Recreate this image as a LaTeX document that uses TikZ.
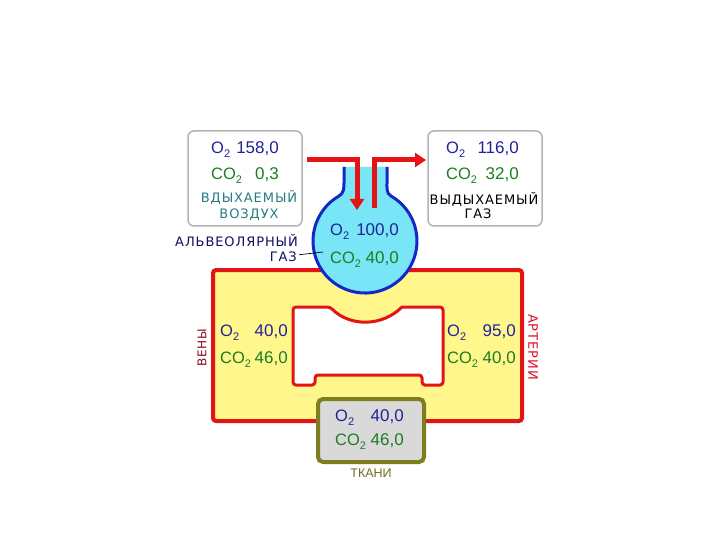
\documentclass[tikz,border=0pt]{standalone}
\usepackage{fontspec}
\setmainfont{Liberation Sans}
\newfontfamily\labfont[LetterSpace=7]{DejaVu Sans}
\usetikzlibrary{arrows.meta}
\definecolor{oxblue}{HTML}{22229A}
\definecolor{cgreen}{HTML}{1E7E1E}
\definecolor{tealtxt}{HTML}{2A7A80}
\definecolor{navytxt}{HTML}{101060}
\definecolor{flaskfill}{HTML}{78E6F6}
\definecolor{flaskline}{HTML}{1428C8}
\definecolor{redline}{HTML}{E41414}
\definecolor{yellowfill}{HTML}{FFF68C}
\definecolor{tissuefill}{HTML}{D9D9D9}
\definecolor{olive}{HTML}{7E7E1E}
\definecolor{olivetxt}{HTML}{6E6E22}
\definecolor{venred}{HTML}{8A0C1E}
\definecolor{artred}{HTML}{E0102A}
\definecolor{boxgray}{HTML}{B4B4B4}
\newcommand\subtwo{\raisebox{-0.45ex}{\fontsize{11}{11}\selectfont 2}}
\newcommand\chemO{{\fontsize{16.5}{16.5}\selectfont O}\subtwo}
\newcommand\chemCO{{\fontsize{16.5}{16.5}\selectfont CO}\subtwo}
\begin{document}
\begin{tikzpicture}[x=1pt,y=1pt,
  num/.style={font=\fontsize{17}{17}\selectfont, inner sep=0pt},
  oxy/.style={num, text=oxblue},
  cdx/.style={num, text=cgreen},
  lab/.style={font=\labfont\fontsize{13}{13}\selectfont, inner sep=0pt},
  gasbox/.style={draw=boxgray, line width=1.5pt, fill=white, rounded corners=6pt},
  redarrow/.style={draw=redline, line width=5pt, -{Triangle[length=11pt,width=14pt]}},
]
\useasboundingbox (0,0) rectangle (720,-540);
\fill[white] (0,0) rectangle (720,-540);

% top boxes
\draw[gasbox] (188,-131) rectangle (302,-226);
\draw[gasbox] (428,-131) rectangle (542,-226);

% yellow blood loop
\draw[draw=redline, line width=4pt, fill=yellowfill, rounded corners=3pt] (213,-270) rectangle (522,-421);
% inner white shape
\draw[draw=redline, line width=3pt, fill=white, rounded corners=3pt]
  (293,-307) -- (330,-307) [sharp corners] arc[start angle=225, end angle=315, radius=50.9]
  [rounded corners=3pt] -- (443,-307) -- (443,-385) -- (422,-385) -- (422,-375)
  -- (315,-375) -- (315,-385) -- (293,-385) -- cycle;

% flask
\fill[flaskfill] (344,-167) -- (344,-183) to[out=-90,in=30] (339,-196)
  arc[start angle=120, end angle=420, radius=52]
  to[out=150,in=-90] (387,-183) -- (387,-167) -- cycle;
\draw[flaskline, line width=3pt] (344,-167) -- (344,-183) to[out=-90,in=30] (339,-196)
  arc[start angle=120, end angle=420, radius=52]
  to[out=150,in=-90] (387,-183) -- (387,-167);

% red arrows
\coordinate (inA) at (307,-160);
\coordinate (inB) at (357,-160);
\coordinate (inC) at (357,-210);
\coordinate (outA) at (374,-208);
\coordinate (outB) at (374,-160);
\coordinate (outC) at (426,-160);
\draw[redarrow] (inA) -- (inB) -- (inC);
\draw[redarrow] (outA) -- (outB) -- (outC);

% tissue box
\draw[draw=olive, line width=4pt, fill=tissuefill, rounded corners=5pt] (318,-399) rectangle (424,-462);

% left box texts
\node[oxy, anchor=base west] (lo) at (211,-153.5) {\chemO};
\node[oxy, anchor=base east] (lov) at (279,-153.5) {158,0};
\node[cdx, anchor=base west] (lc) at (211,-179.5) {\chemCO};
\node[cdx, anchor=base east] (lcv) at (279,-179.5) {0,3};
\node[lab, text=tealtxt, anchor=base] (inl1) at (249,-202.5) {ВДЫХАЕМЫЙ};
\node[lab, text=tealtxt, anchor=base] (inl2) at (249,-218.5) {ВОЗДУХ};

% right box texts
\node[oxy, anchor=base west] (ro) at (446,-153.5) {\chemO};
\node[oxy, anchor=base east] (rov) at (519,-153.5) {116,0};
\node[cdx, anchor=base west] (rc) at (446,-179.5) {\chemCO};
\node[cdx, anchor=base east] (rcv) at (519,-179.5) {32,0};
\node[lab, text=black, anchor=base] (exl1) at (484,-204.5) {ВЫДЫХАЕМЫЙ};
\node[lab, text=black, anchor=base] (exl2) at (478,-218.5) {ГАЗ};

% flask texts
\node[oxy, anchor=base west] (fo) at (330,-235.5) {\chemO};
\node[oxy, anchor=base east] (fov) at (399,-235.5) {100,0};
\node[cdx, anchor=base west] (fc) at (330,-263.5) {\chemCO};
\node[cdx, anchor=base east] (fcv) at (399,-263.5) {40,0};

% alveolar label
\node[lab, text=navytxt, anchor=base east] (al1) at (298,-246.5) {АЛЬВЕОЛЯРНЫЙ};
\node[lab, text=navytxt, anchor=base east] (al2) at (297,-261.5) {ГАЗ};
\coordinate (alp) at (323,-252);
\draw[black, line width=0.7pt] (al2.east) ++(2,2) -- (alp);

% venous / arterial texts
\node[oxy, anchor=base west] (vo) at (220,-336.5) {\chemO};
\node[oxy, anchor=base east] (vov) at (288,-336.5) {40,0};
\node[cdx, anchor=base west] (vc) at (220,-363.5) {\chemCO};
\node[cdx, anchor=base east] (vcv) at (288,-363.5) {46,0};
\node[oxy, anchor=base west] (ao) at (447,-336.5) {\chemO};
\node[oxy, anchor=base east] (aov) at (516,-336.5) {95,0};
\node[cdx, anchor=base west] (ac) at (447,-363.5) {\chemCO};
\node[cdx, anchor=base east] (acv) at (516,-363.5) {40,0};
\node[lab, text=venred, font=\labfont\fontsize{12}{12}\selectfont, rotate=90] (ven) at (202,-348) {ВЕНЫ};
\node[lab, text=artred, rotate=-90] (art) at (533,-347) {АРТЕРИИ};

% tissue texts
\node[oxy, anchor=base west] (to) at (335,-421.5) {\chemO};
\node[oxy, anchor=base east] (tov) at (404,-421.5) {40,0};
\node[cdx, anchor=base west] (tc) at (335,-445) {\chemCO};
\node[cdx, anchor=base east] (tcv) at (404,-445) {46,0};
\node[inner sep=0pt, text=olivetxt, font=\fontsize{12.5}{12.5}\selectfont, anchor=base] (tis) at (371,-477) {ТКАНИ};
\end{tikzpicture}
\end{document}
